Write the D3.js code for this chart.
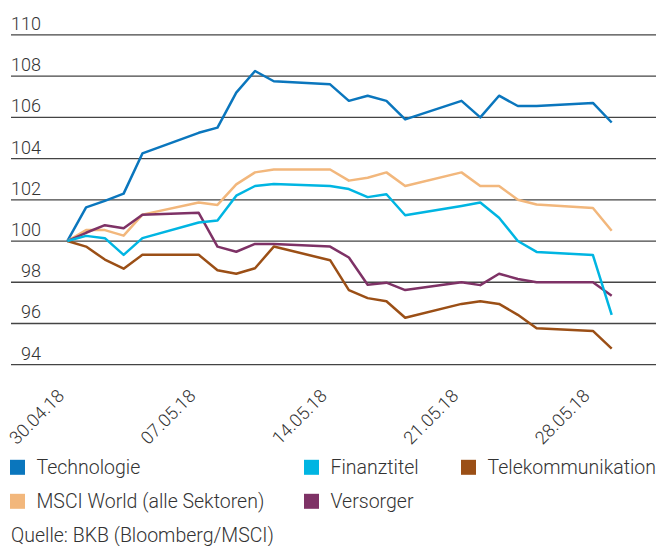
<!DOCTYPE html>
<html>
<head>
<meta charset="utf-8">
<script src="https://cdn.jsdelivr.net/npm/d3@7"></script>
<style>
  html, body { margin: 0; padding: 0; background: #fff; }
  svg { display: block; }
  text { font-family: Roboto, "Noto Sans", sans-serif; font-weight: 300; fill: #333; }
</style>
</head>
<body>
<svg id="chart" width="656" height="546"></svg>
<script>
const dates = ["30.04.18","01.05.18","02.05.18","03.05.18","04.05.18","07.05.18","08.05.18","09.05.18","10.05.18","11.05.18","14.05.18","15.05.18","16.05.18","17.05.18","18.05.18","21.05.18","22.05.18","23.05.18","24.05.18","25.05.18","28.05.18","29.05.18"];
const technologie = [100, 101.63, 101.95, 102.3, 104.25, 105.25, 105.5, 107.2, 108.25, 107.75, 107.6, 106.8, 107.05, 106.8, 105.9, 106.8, 106.0, 107.05, 106.55, 106.55, 106.7, 105.75];
const finanztitel = [100, 100.25, 100.14, 99.33, 100.14, 100.9, 101.0, 102.2, 102.67, 102.77, 102.67, 102.52, 102.13, 102.27, 101.25, 101.7, 101.87, 101.13, 100.0, 99.47, 99.32, 96.42];
const telekom = [100, 99.73, 99.1, 98.66, 99.33, 99.33, 98.58, 98.41, 98.68, 99.73, 99.07, 97.62, 97.23, 97.08, 96.28, 96.95, 97.08, 96.95, 96.42, 95.77, 95.64, 94.78];
const msciWorld = [100, 100.53, 100.53, 100.26, 101.28, 101.87, 101.75, 102.75, 103.33, 103.47, 103.47, 102.93, 103.07, 103.33, 102.67, 103.33, 102.67, 102.67, 102.0, 101.77, 101.6, 100.5];
const versorger = [100, 100.4, 100.77, 100.62, 101.28, 101.37, 99.73, 99.48, 99.86, 99.86, 99.73, 99.2, 97.88, 97.98, 97.62, 98.0, 97.86, 98.41, 98.16, 98.0, 98.0, 97.35];
const yTicks = [94, 96, 98, 100, 102, 104, 106, 108, 110];
const xTickLabels = ["30.04.18", "07.05.18", "14.05.18", "21.05.18", "28.05.18"];
const seriesNames = ["Technologie", "Finanztitel", "Telekommunikation", "MSCI World (alle Sektoren)", "Versorger"];
const seriesColors = ["#0a76bd", "#00b5e2", "#9b4f16", "#f2b77c", "#7e3266"];
const source = "Quelle: BKB (Bloomberg/MSCI)";

const parse = d3.timeParse("%d.%m.%y");
const seriesValues = [technologie, finanztitel, telekom, msciWorld, versorger];
const series = seriesNames.map((name, i) => ({
  name, color: seriesColors[i],
  points: dates.map((d, j) => ({ date: parse(d), value: seriesValues[i][j] }))
}));

const svg = d3.select("#chart");
const x = d3.scaleTime().domain([parse("27.04.18"), parse("01.06.18")]).range([11, 668]);
const y = d3.scaleLinear().domain([94, 110]).range([364.7, 34.9]);

// gridlines
svg.append("g").selectAll("line").data(yTicks).join("line")
  .attr("x1", 11).attr("x2", 656)
  .attr("y1", d => y(d)).attr("y2", d => y(d))
  .attr("stroke", "#444").attr("stroke-width", 1.3);

// y labels
svg.append("g").selectAll("text").data(yTicks).join("text")
  .attr("x", 41).attr("y", d => y(d) - 5)
  .attr("text-anchor", "end")
  .attr("font-size", 18)
  .text(d => d);

// x labels
svg.append("g").selectAll("text").data(xTickLabels).join("text")
  .attr("transform", d => `translate(${x(parse(d)) - 2},397) rotate(-45)`)
  .attr("text-anchor", "end")
  .attr("font-size", 18)
  .text(d => d);

// lines
const line = d3.line().x(d => x(d.date)).y(d => y(d.value));
const drawOrder = [0, 3, 4, 2, 1];
svg.append("g").selectAll("path").data(drawOrder.map(i => series[i])).join("path")
  .attr("d", d => line(d.points))
  .attr("fill", "none")
  .attr("stroke", d => d.color)
  .attr("stroke-width", 2.5)
  .attr("stroke-linejoin", "round");

// legend
const legendPos = [[10, 474.3], [304, 474.3], [461, 474.3], [10, 508.3], [304, 508.3]];
const lg = svg.append("g").selectAll("g").data(series).join("g")
  .attr("transform", (d, i) => `translate(${legendPos[i][0]},${legendPos[i][1]})`);
lg.append("rect").attr("x", 0).attr("y", -14.5).attr("width", 15).attr("height", 15)
  .attr("fill", d => d.color);
lg.append("text").attr("x", 26.5).attr("y", 0).attr("font-size", 19.5).text(d => d.name);

svg.append("text").attr("x", 11).attr("y", 541.7).attr("font-size", 19.5).text(source);
</script>
</body>
</html>
